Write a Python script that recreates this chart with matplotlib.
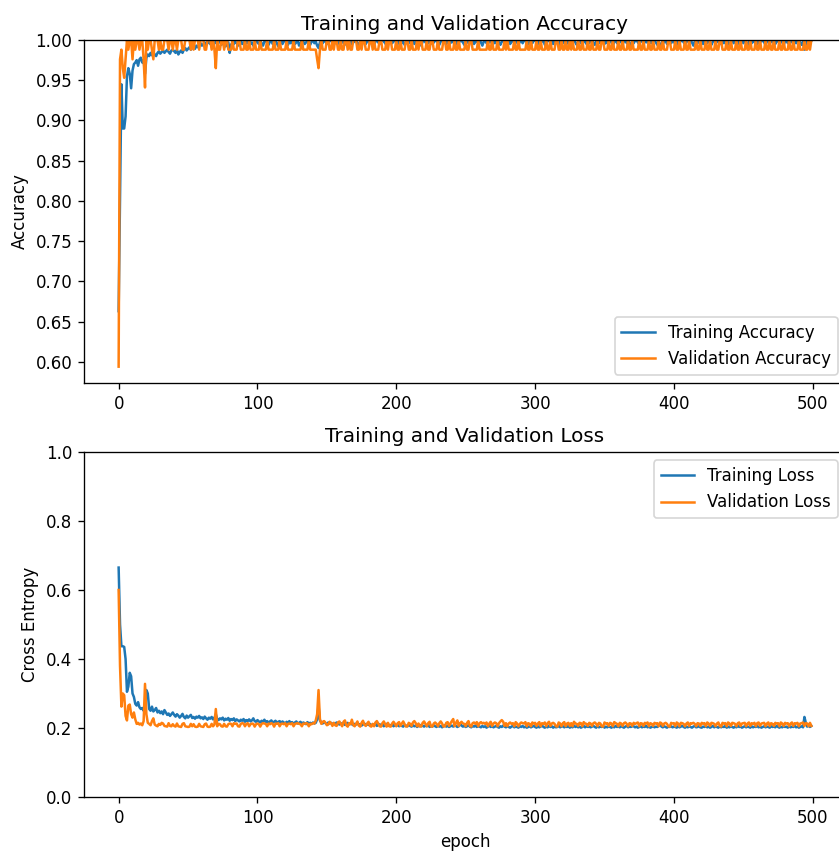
import numpy as np
import matplotlib
matplotlib.use("Agg")
import matplotlib.pyplot as plt

# values in thousandths, one per epoch
train_acc = [
663, 800, 945, 890, 890, 905, 955, 965, 958, 940, 962, 970, 972, 975, 968, 976, 978, 972, 975, 958,
978, 982, 980, 984, 981, 985, 982, 980, 984, 986, 983, 985, 987, 984, 986, 988, 985, 983, 987, 988,
986, 984, 988, 982, 985, 987, 984, 988, 990, 987, 989, 991, 988, 990, 992, 989, 993, 991, 994, 996,
993, 995, 997, 994, 996, 998, 995, 997, 993, 996, 998, 995, 997, 999, 994, 996, 998, 992, 995, 997,
984, 994, 997, 995, 998, 996, 993, 997, 999, 995, 997, 994, 998, 996, 999, 995, 997, 993, 996, 998,
997, 995, 999, 996, 993, 998, 1000, 996, 994, 998, 999, 995, 997, 1000, 996, 992, 997, 999, 995, 998,
1000, 997, 994, 998, 996, 999, 1000, 995, 997, 999, 993, 996, 1000, 998, 995, 997, 999, 996, 994, 998,
1000, 996, 998, 993, 990, 997, 999, 996, 1000, 998, 995, 997, 999, 1000, 996, 994, 998, 1000, 997, 995,
999, 1000, 996, 998, 994, 997, 1000, 999, 995, 997, 998, 1000, 996, 993, 998, 1000, 997, 999, 995, 998,
1000, 996, 999, 997, 994, 998, 1000, 997, 995, 999, 1000, 998, 996, 993, 997, 1000, 999, 996, 998, 1000,
997, 995, 999, 1000, 996, 998, 994, 997, 1000, 999, 996, 998, 1000, 995, 997, 999, 1000, 996, 993, 998,
1000, 997, 999, 996, 998, 1000, 995, 997, 999, 1000, 996, 994, 998, 1000, 997, 999, 995, 998, 1000, 996,
999, 997, 1000, 995, 998, 996, 1000, 999, 997, 994, 998, 1000, 996, 999, 997, 1000, 995, 998, 999, 996,
1000, 997, 993, 998, 1000, 996, 999, 997, 1000, 995, 998, 996, 1000, 999, 997, 994, 998, 1000, 996, 999,
997, 1000, 995, 998, 1000, 996, 999, 997, 994, 998, 1000, 996, 999, 1000, 997, 995, 998, 1000, 996, 999,
1000, 997, 995, 999, 996, 998, 1000, 994, 997, 999, 1000, 996, 998, 995, 999, 1000, 997, 993, 998, 1000,
996, 999, 997, 1000, 995, 998, 1000, 996, 999, 997, 994, 998, 1000, 996, 999, 997, 1000, 995, 998, 996,
1000, 999, 997, 994, 998, 1000, 996, 999, 997, 1000, 995, 998, 996, 1000, 999, 997, 993, 998, 1000, 996,
999, 997, 1000, 995, 998, 1000, 996, 999, 997, 994, 996, 996, 999, 1000, 997, 995, 998, 1000, 996, 999,
997, 1000, 995, 998, 996, 1000, 999, 997, 994, 998, 990, 996, 999, 997, 1000, 995, 998, 1000, 996, 999,
997, 1000, 994, 998, 996, 999, 1000, 997, 995, 998, 1000, 996, 999, 997, 993, 998, 1000, 996, 999, 997,
1000, 995, 998, 1000, 996, 999, 997, 994, 998, 1000, 996, 999, 997, 1000, 995, 998, 996, 1000, 999, 997,
994, 998, 1000, 996, 999, 997, 1000, 995, 998, 1000, 996, 999, 997, 993, 998, 1000, 996, 999, 997, 1000,
995, 998, 996, 1000, 999, 997, 994, 998, 1000, 996, 999, 997, 1000, 995, 998, 1000, 996, 999, 997, 994,
998, 1000, 996, 999, 997, 1000, 995, 998, 996, 1000, 999, 997, 994, 998, 988, 996, 999, 992, 997, 999,
]

val_acc = [
594, 976, 988, 965, 953, 976, 1000, 988, 1000, 1000, 976, 1000, 988, 1000, 1000, 988, 1000, 1000, 976, 941,
1000, 988, 1000, 1000, 988, 976, 1000, 1000, 1000, 988, 1000, 988, 988, 1000, 1000, 1000, 988, 1000, 1000, 988,
1000, 1000, 988, 1000, 1000, 1000, 988, 988, 1000, 1000, 1000, 1000, 988, 1000, 988, 1000, 1000, 1000, 988, 1000,
1000, 1000, 988, 988, 1000, 1000, 1000, 988, 1000, 988, 965, 1000, 988, 988, 1000, 1000, 988, 1000, 1000, 988,
988, 988, 1000, 988, 988, 988, 1000, 1000, 988, 988, 988, 1000, 988, 988, 1000, 988, 988, 988, 1000, 988,
988, 988, 1000, 988, 988, 988, 988, 1000, 988, 988, 988, 988, 1000, 988, 988, 988, 1000, 988, 988, 988,
988, 1000, 988, 988, 988, 988, 1000, 988, 988, 988, 988, 988, 1000, 988, 988, 988, 988, 1000, 988, 988,
988, 988, 988, 976, 965, 988, 1000, 988, 988, 988, 1000, 1000, 988, 988, 1000, 988, 1000, 1000, 988, 988,
1000, 988, 988, 1000, 1000, 988, 1000, 988, 988, 1000, 1000, 1000, 988, 988, 1000, 988, 1000, 1000, 988, 988,
988, 1000, 1000, 988, 1000, 988, 988, 988, 1000, 1000, 988, 988, 988, 1000, 988, 1000, 1000, 988, 988, 988,
1000, 988, 988, 1000, 988, 988, 988, 1000, 1000, 988, 988, 1000, 988, 988, 988, 1000, 988, 1000, 1000, 988,
988, 988, 1000, 988, 988, 1000, 1000, 988, 988, 988, 1000, 988, 988, 988, 1000, 1000, 988, 988, 1000, 988,
988, 988, 1000, 988, 988, 1000, 988, 988, 988, 988, 1000, 988, 988, 1000, 1000, 988, 988, 988, 988, 1000,
988, 988, 988, 988, 988, 988, 1000, 988, 988, 1000, 988, 988, 988, 1000, 988, 988, 988, 988, 1000, 988,
1000, 988, 988, 988, 988, 1000, 988, 988, 1000, 988, 988, 988, 988, 988, 1000, 988, 988, 1000, 988, 988,
988, 1000, 988, 988, 1000, 988, 988, 988, 1000, 988, 988, 1000, 988, 988, 988, 1000, 1000, 988, 988, 1000,
988, 988, 1000, 988, 988, 1000, 988, 1000, 988, 988, 988, 1000, 988, 988, 1000, 988, 988, 988, 1000, 988,
988, 1000, 988, 988, 988, 1000, 988, 988, 1000, 1000, 988, 988, 988, 1000, 988, 988, 1000, 988, 988, 988,
1000, 988, 988, 1000, 988, 988, 988, 1000, 988, 988, 1000, 988, 988, 988, 988, 1000, 988, 988, 1000, 988,
988, 988, 1000, 988, 988, 1000, 988, 988, 988, 1000, 988, 988, 1000, 988, 988, 988, 1000, 1000, 988, 988,
988, 1000, 988, 988, 1000, 988, 988, 988, 1000, 988, 988, 1000, 988, 988, 988, 988, 1000, 988, 988, 1000,
988, 988, 988, 1000, 988, 988, 1000, 988, 988, 988, 1000, 988, 988, 1000, 1000, 988, 988, 988, 1000, 988,
988, 1000, 988, 988, 988, 1000, 988, 988, 1000, 988, 988, 988, 1000, 988, 988, 1000, 988, 988, 988, 1000,
988, 988, 1000, 988, 988, 988, 1000, 988, 988, 1000, 988, 988, 1000, 988, 988, 988, 1000, 988, 988, 1000,
988, 988, 988, 1000, 988, 988, 1000, 988, 988, 988, 1000, 988, 988, 988, 1000, 988, 988, 1000, 988, 1000,
]

train_loss = [
665, 500, 437, 437, 435, 400, 305, 320, 360, 350, 300, 290, 270, 265, 275, 260, 255, 258, 250, 265,
310, 300, 255, 250, 262, 248, 252, 258, 245, 250, 243, 248, 240, 252, 245, 238, 242, 235, 240, 245,
238, 233, 240, 236, 230, 235, 241, 232, 228, 236, 230, 234, 238, 229, 232, 227, 233, 230, 235, 228,
231, 226, 233, 228, 224, 230, 227, 232, 225, 229, 240, 226, 223, 228, 225, 230, 222, 227, 224, 229,
221, 226, 223, 228, 220, 225, 222, 219, 224, 221, 226, 218, 223, 220, 225, 219, 222, 228, 220, 218,
223, 219, 216, 221, 218, 224, 217, 220, 215, 219, 222, 216, 218, 221, 215, 218, 220, 214, 219, 216,
213, 218, 215, 220, 214, 217, 212, 216, 219, 213, 215, 218, 212, 216, 214, 211, 217, 213, 215, 212,
216, 213, 215, 225, 265, 222, 216, 213, 218, 214, 212, 216, 213, 215, 211, 214, 212, 216, 213, 210,
214, 211, 213, 209, 212, 215, 210, 213, 211, 208, 212, 210, 214, 209, 211, 207, 210, 213, 208, 211,
209, 212, 207, 210, 208, 213, 206, 209, 211, 207, 210, 205, 208, 212, 206, 209, 207, 210, 205, 208,
206, 210, 205, 208, 206, 204, 209, 207, 205, 210, 206, 204, 208, 205, 207, 203, 206, 209, 205, 207,
204, 207, 205, 209, 203, 206, 204, 208, 205, 203, 207, 204, 206, 202, 205, 208, 204, 206, 203, 205,
207, 204, 209, 206, 203, 205, 212, 207, 204, 206, 203, 205, 208, 204, 202, 206, 204, 207, 203, 205,
204, 202, 206, 203, 205, 201, 204, 207, 203, 205, 202, 204, 206, 203, 201, 205, 203, 207, 204, 202,
205, 203, 201, 204, 206, 202, 204, 203, 201, 205, 203, 206, 202, 204, 201, 203, 205, 202, 204, 206,
203, 201, 205, 202, 204, 207, 203, 201, 204, 202, 206, 203, 205, 201, 204, 202, 203, 206, 202, 204,
205, 202, 204, 203, 206, 201, 204, 202, 207, 203, 205, 202, 204, 201, 203, 206, 202, 205, 203, 204,
202, 204, 206, 203, 201, 205, 202, 204, 203, 206, 201, 204, 202, 205, 203, 201, 204, 202, 206, 203,
204, 202, 205, 203, 201, 204, 206, 202, 204, 203, 205, 205, 202, 204, 201, 203, 205, 202, 204, 203,
206, 202, 204, 201, 203, 205, 202, 204, 203, 206, 212, 204, 202, 205, 203, 201, 204, 203, 205, 202,
204, 203, 201, 205, 202, 204, 206, 203, 201, 204, 202, 205, 203, 201, 204, 206, 202, 203, 205, 202,
201, 204, 203, 205, 202, 204, 201, 203, 206, 202, 204, 203, 201, 205, 202, 204, 203, 206, 201, 204,
202, 205, 203, 201, 204, 202, 206, 203, 204, 201, 203, 205, 202, 204, 203, 201, 205, 202, 204, 203,
206, 202, 204, 201, 203, 205, 202, 204, 203, 201, 205, 203, 204, 202, 206, 203, 201, 204, 202, 205,
203, 204, 201, 205, 202, 204, 203, 206, 202, 204, 201, 203, 205, 202, 232, 215, 204, 210, 203, 206,
]

val_loss = [
600, 380, 262, 300, 295, 235, 222, 265, 268, 240, 230, 245, 225, 212, 215, 210, 213, 208, 220, 328,
240, 215, 212, 208, 220, 228, 210, 207, 205, 212, 209, 215, 213, 206, 205, 204, 214, 206, 205, 211,
206, 204, 213, 205, 204, 203, 212, 214, 205, 204, 203, 204, 212, 205, 211, 204, 203, 204, 212, 205,
204, 203, 211, 213, 204, 203, 204, 212, 205, 210, 255, 205, 212, 211, 205, 204, 212, 205, 204, 211,
213, 212, 205, 214, 212, 213, 205, 204, 212, 214, 213, 205, 212, 214, 205, 211, 213, 212, 204, 211,
213, 211, 204, 212, 214, 213, 212, 205, 213, 211, 214, 212, 204, 213, 212, 214, 205, 212, 213, 211,
214, 205, 212, 213, 211, 214, 205, 212, 213, 214, 212, 211, 205, 213, 212, 214, 213, 205, 212, 211,
214, 213, 222, 240, 310, 225, 212, 218, 220, 215, 208, 210, 218, 214, 206, 215, 208, 206, 216, 219,
212, 205, 218, 222, 208, 204, 214, 211, 224, 209, 205, 212, 219, 207, 204, 215, 221, 210, 206, 213,
218, 206, 204, 212, 205, 216, 220, 213, 205, 204, 214, 219, 211, 204, 215, 205, 204, 213, 218, 212,
205, 214, 217, 206, 213, 219, 211, 204, 205, 215, 212, 206, 216, 220, 214, 205, 213, 204, 205, 215,
219, 212, 205, 214, 218, 205, 204, 213, 216, 212, 205, 214, 219, 213, 204, 205, 215, 217, 206, 213,
220, 226, 205, 215, 222, 206, 214, 218, 213, 212, 205, 215, 220, 206, 204, 214, 216, 212, 217, 205,
214, 217, 213, 215, 212, 216, 205, 213, 218, 206, 213, 216, 214, 205, 214, 219, 223, 218, 206, 214,
205, 213, 216, 212, 214, 205, 217, 213, 205, 212, 216, 214, 213, 217, 205, 214, 212, 205, 216, 213,
215, 206, 213, 217, 205, 214, 212, 216, 205, 214, 218, 206, 213, 215, 212, 205, 204, 216, 213, 205,
214, 217, 205, 213, 215, 206, 214, 205, 218, 213, 212, 206, 215, 214, 205, 217, 213, 212, 206, 215,
213, 206, 214, 216, 212, 205, 215, 213, 205, 204, 216, 213, 214, 206, 215, 213, 205, 217, 214, 212,
205, 215, 213, 206, 214, 216, 212, 205, 214, 213, 206, 215, 212, 214, 216, 205, 214, 213, 206, 215,
213, 216, 205, 214, 212, 206, 215, 213, 214, 205, 216, 214, 206, 213, 215, 212, 205, 204, 215, 213,
214, 205, 216, 213, 205, 215, 214, 212, 205, 213, 216, 206, 214, 213, 215, 212, 205, 214, 213, 206,
215, 213, 214, 205, 216, 213, 206, 215, 214, 212, 205, 213, 216, 206, 204, 215, 213, 214, 205, 216,
213, 206, 215, 214, 212, 205, 214, 216, 206, 213, 214, 215, 205, 213, 216, 206, 214, 212, 215, 205,
214, 216, 206, 213, 214, 215, 205, 213, 216, 206, 214, 212, 206, 215, 213, 214, 205, 216, 213, 206,
215, 213, 214, 205, 213, 216, 206, 214, 213, 215, 205, 213, 214, 216, 206, 214, 213, 205, 215, 206,
]

acc = np.array(train_acc) / 1000.0
vacc = np.array(val_acc) / 1000.0
loss = np.array(train_loss) / 1000.0
vloss = np.array(val_loss) / 1000.0

W, H = 839, 855
DPI = 120
fig = plt.figure(figsize=(W / DPI, H / DPI), dpi=DPI)
left = 84 / W
width = 762 / W

ax1 = fig.add_axes([left, 1 - 383 / H, width, 343 / H])
ax1.plot(np.arange(len(acc)), acc, label='Training Accuracy')
ax1.plot(np.arange(len(vacc)), vacc, label='Validation Accuracy')
ax1.legend(loc='lower right')
ax1.set_ylabel('Accuracy')
ax1.set_ylim([min(ax1.get_ylim()), 1])
ax1.set_title('Training and Validation Accuracy')

ax2 = fig.add_axes([left, 1 - 797 / H, width, 345 / H])
ax2.plot(np.arange(len(loss)), loss, label='Training Loss')
ax2.plot(np.arange(len(vloss)), vloss, label='Validation Loss')
ax2.legend(loc='upper right')
ax2.set_ylabel('Cross Entropy')
ax2.set_ylim([0, 1.0])
ax2.set_title('Training and Validation Loss')
ax2.set_xlabel('epoch')

fig.savefig('out.png', dpi=DPI)
